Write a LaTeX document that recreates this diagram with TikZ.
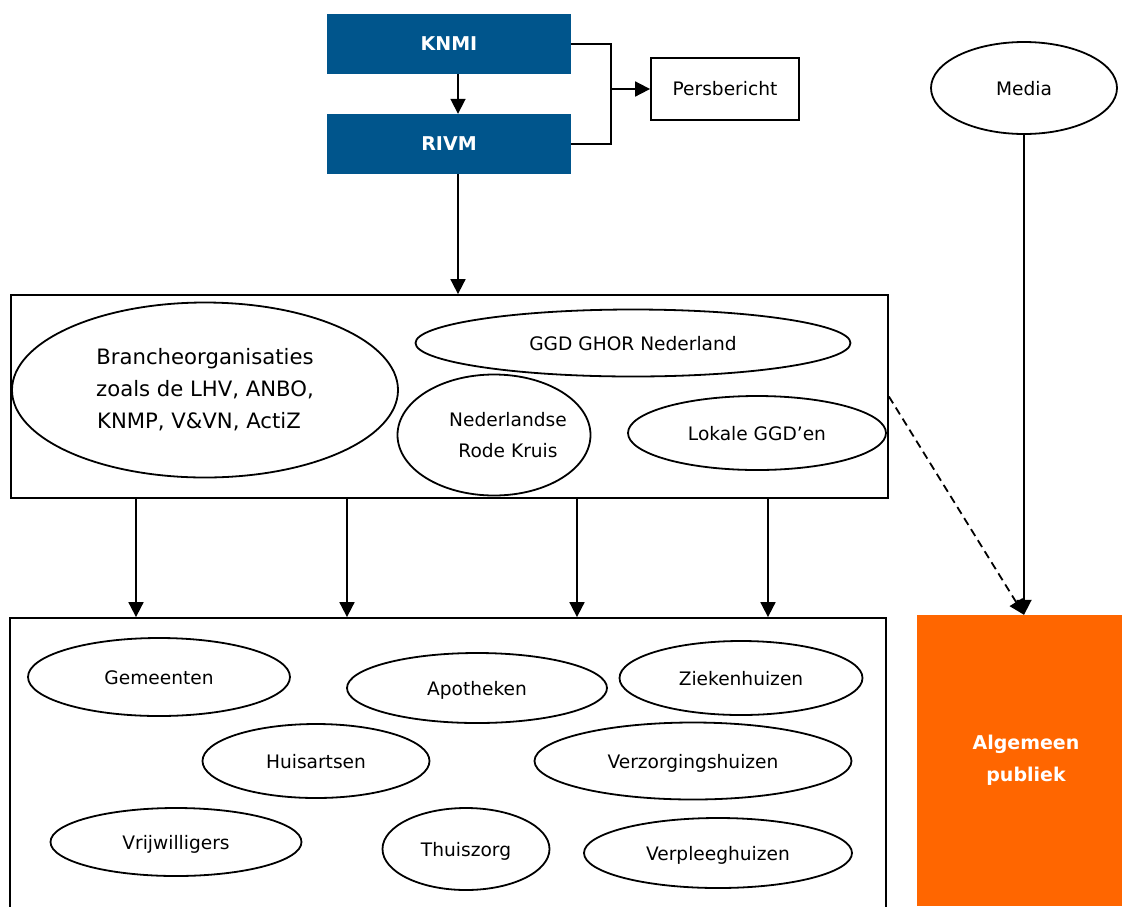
\documentclass[tikz,border=0pt]{standalone}
\usepackage{fontspec}
\setmainfont{DejaVu Sans}
\usetikzlibrary{shapes.geometric,arrows.meta}
\definecolor{knmiblue}{HTML}{00558C}
\definecolor{pubor}{HTML}{FF6600}
\begin{document}
\begin{tikzpicture}[x=1pt,y=-1pt,
  lw/.style={line width=1.8pt},
  arr/.style={lw,-{Triangle[length=15pt,width=15pt]}},
  bluebox/.style={fill=knmiblue,text=white,font=\fontsize{19}{22}\selectfont\bfseries,minimum width=244pt,minimum height=60pt,inner sep=0pt},
  ell/.style={ellipse,draw,lw,inner sep=0pt,font=\fontsize{18.6}{31}\selectfont,align=center},
  one/.style={text height=15pt,text depth=0pt},
  frame/.style={draw,lw,inner sep=0pt}]
\useasboundingbox (0,0) rectangle (1122,906);
\clip (0,0) rectangle (1122,906);
% top
\node[bluebox] (knmi) at (449,44) {KNMI};
\node[bluebox] (rivm) at (449,144) {RIVM};
\node[frame,minimum width=148pt,minimum height=62pt,font=\fontsize{18.6}{20}\selectfont] (pers) at (725,89) {Persbericht};
\node[ell,one,minimum width=186pt,minimum height=92pt] (media) at (1024,88) {Media};
\draw[arr] (knmi.south -| 458,0) -- (rivm.north -| 458,0);
\draw[lw] (knmi.east) -- ++(40,0) coordinate (b1) -- (b1 |- rivm.east) -- (rivm.east);
\draw[arr] (b1 |- pers.west) -- (pers.west);
% middle box
\node[frame,minimum width=877pt,minimum height=203pt] (mid) at (449.5,396.5) {};
\node[ell,minimum width=386pt,minimum height=175pt,font=\fontsize{21.2}{32}\selectfont] (branche) at (205,390) {Brancheorganisaties\\zoals de LHV, ANBO,\\KNMP, V\&VN, ActiZ\hspace*{12pt}};
\node[ell,one,minimum width=435pt,minimum height=67pt] (ggd) at (633,343) {GGD GHOR Nederland};
\node[ell,inner xsep=-20pt,inner ysep=-5pt,minimum width=193pt,minimum height=121pt] (rk) at (494,435) {\hspace*{28pt}Nederlandse\\\hspace*{28pt}Rode Kruis};
\node[ell,one,minimum width=258pt,minimum height=74pt] (lok) at (757,433) {Lokale GGD’en};
\draw[arr] (rivm.south -| 458,0) -- (mid.north -| 458,0);
% bottom box
\node[frame,minimum width=876pt,minimum height=312pt] (bot) at (448,774) {};
\node[ell,one,minimum width=262pt,minimum height=78pt] (gem) at (159,677) {Gemeenten};
\node[ell,one,minimum width=260pt,minimum height=70pt] (apo) at (477,688) {Apotheken};
\node[ell,one,minimum width=243pt,minimum height=74pt] (zie) at (741,678) {Ziekenhuizen};
\node[ell,one,minimum width=227pt,minimum height=74pt] (hui) at (316,761) {Huisartsen};
\node[ell,one,minimum width=317pt,minimum height=77pt] (ver) at (693,761) {Verzorgingshuizen};
\node[ell,one,minimum width=251pt,minimum height=68pt] (vri) at (176,842) {Vrijwilligers};
\node[ell,one,minimum width=167pt,minimum height=82pt] (thu) at (466,849) {Thuiszorg};
\node[ell,one,minimum width=268pt,minimum height=70pt] (vpl) at (718,853) {Verpleeghuizen};
\foreach \xx in {136,347,577,768}
  \draw[arr] (mid.south -| \xx,0) -- (bot.north -| \xx,0);
% public
\node[fill=pubor,text=white,minimum width=218pt,minimum height=291pt,inner sep=0pt,align=center,font=\fontsize{19}{32}\selectfont\bfseries] (pub) at (1026,760.5) {Algemeen\\publiek};
\draw[arr] (media.south) -- (media |- pub.north);
\draw[arr,dashed,dash pattern=on 8pt off 5pt] (mid.east) -- (media |- pub.north);
\end{tikzpicture}
\end{document}
